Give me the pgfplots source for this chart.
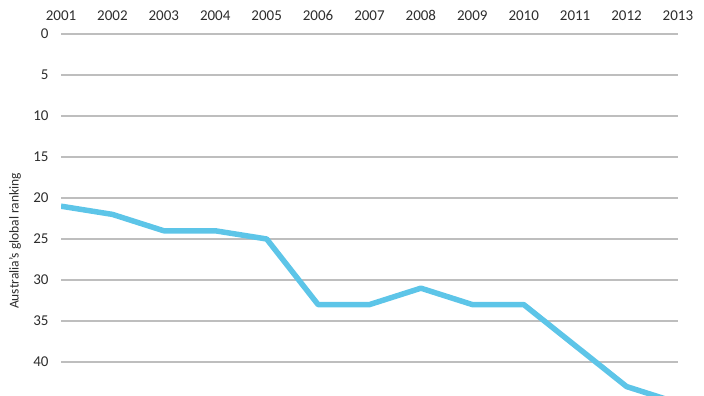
\documentclass[border=0pt]{standalone}
\usepackage{pgfplots}
\pgfplotsset{compat=1.18}
\usepackage{fontspec}
\setmainfont{Carlito}
\definecolor{linec}{RGB}{93,197,232}
\definecolor{gridc}{RGB}{190,190,190}
\definecolor{txt}{RGB}{45,45,45}
\begin{document}
\begin{tikzpicture}
\path[use as bounding box] (0pt,0pt) rectangle (704pt,396pt);
\begin{axis}[
  at={(61pt,0pt)}, anchor=south west,
  scale only axis, width=617pt, height=362pt,
  xmin=2001, xmax=2013,
  ymin=0, ymax=44.15, y dir=reverse,
  xtick={2001,...,2013},
  ytick={0,5,...,40},
  xticklabel pos=upper,
  xticklabel style={/pgf/number format/1000 sep={}, font=\fontsize{15}{15}\selectfont, text=txt, yshift=10pt},
  yticklabel style={font=\fontsize{15}{15}\selectfont, text=txt, xshift=-9pt},
  /pgf/number format/assume math mode=true,
  axis line style={draw=none},
  major tick style={draw=none},
  ymajorgrids, grid style={gridc, line width=1.5pt},
  clip=true,
]
\addplot[linec, line width=5.5pt, line join=round] coordinates {
(2001,21) (2002,22) (2003,24) (2004,24) (2005,25) (2006,33) (2007,33)
(2008,31) (2009,33) (2010,33) (2011,38) (2012,43) (2013,45)
};
\end{axis}
\node[rotate=90, text=txt, font=\fontsize{13.5}{13.5}\selectfont] at (15pt,155pt) {Australia’s global ranking};
\end{tikzpicture}
\end{document}
